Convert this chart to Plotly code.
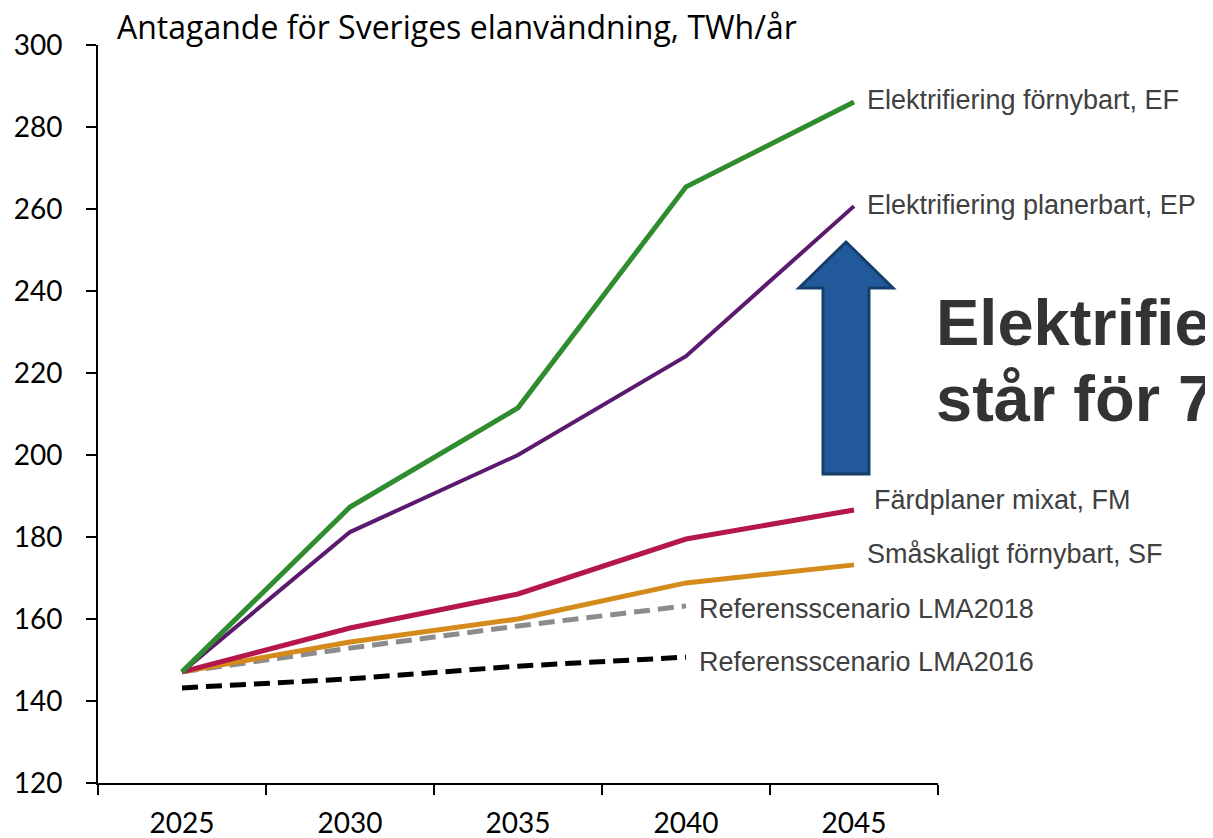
import plotly.graph_objects as go

years = ["2025", "2030", "2035", "2040", "2045"]
ef = [147.1, 187.3, 211.5, 265.4, 286.1]
ep = [147.1, 181.2, 200.0, 224.1, 260.7]
fm = [147.1, 157.8, 166.1, 179.5, 186.6]
sf = [147.1, 154.4, 160.0, 168.8, 173.2]
lma2018 = [147.1, 152.9, 158.3, 163.2]
lma2016 = [143.2, 145.4, 148.5, 150.7]
y_ticks = [120, 140, 160, 180, 200, 220, 240, 260, 280, 300]

W, H = 1213, 838
OFF = 8  # page body margin
L, T = 90, 37
PW, PH = 840, 738
R = W - L - PW
B = H - T - PH

def px(x):
    return (x - OFF - L) / PW

def py(y):
    return 1 - (y - OFF - T) / PH

fig = go.Figure()

series = [
    ("Referensscenario LMA2016", lma2016, "#000000", 5, "dash"),
    ("Referensscenario LMA2018", lma2018, "#8c8c8c", 5, "dash"),
    ("Småskaligt förnybart, SF", sf, "#d58a1c", 5, "solid"),
    ("Färdplaner mixat, FM", fm, "#b5174d", 5, "solid"),
    ("Elektrifiering planerbart, EP", ep, "#5c1a6e", 4, "solid"),
    ("Elektrifiering förnybart, EF", ef, "#2f8c2f", 5, "solid"),
]
for name, vals, col, w, dash in series:
    fig.add_trace(go.Scatter(
        x=years[:len(vals)], y=vals, mode="lines", name=name,
        line=dict(color=col, width=w, dash="16px,8px" if dash == "dash" else "solid"),
        showlegend=False, hoverinfo="skip",
    ))

label_font = dict(family="Liberation Sans, Arial, sans-serif", size=27, color="#404040")
label_pos = [
    ("Elektrifiering förnybart, EF", ef, 11, 2),
    ("Elektrifiering planerbart, EP", ep, 11, 1),
    ("Färdplaner mixat, FM", fm, 18, 10),
    ("Småskaligt förnybart, SF", sf, 11, 11),
    ("Referensscenario LMA2018", lma2018, 11, -3),
    ("Referensscenario LMA2016", lma2016, 11, -5),
]
for text, vals, xs, ys in label_pos:
    fig.add_annotation(
        x=len(vals) - 1, y=vals[-1], xref="x", yref="y",
        text=text, showarrow=False, xanchor="left", yanchor="middle",
        xshift=xs, yshift=ys, font=label_font,
    )

# Title
fig.add_annotation(
    x=px(115), y=py(26), xref="paper", yref="paper",
    text="Antagande för Sveriges elanvändning, TWh/år", showarrow=False,
    xanchor="left", yanchor="middle",
    font=dict(family="Open Sans, Lato, sans-serif", size=32, color="#000000"),
)

# Big blue arrow
pts = [(846, 242), (893, 288), (869, 288), (869, 474), (823, 474), (823, 288), (799, 288)]
path = "M " + " L ".join(f"{px(a):.5f},{py(b):.5f}" for a, b in pts) + " Z"
fig.add_shape(type="path", path=path, xref="paper", yref="paper",
              fillcolor="#22599a", line=dict(color="#163e6b", width=3), layer="above")

# Big text (two lines)
big_font = dict(family="Liberation Sans, Arial, sans-serif", size=65, color="#333333")
for txt, yy in [("<b>Elektrifieringen</b>", 323), ("<b>står för 75%</b>", 398)]:
    fig.add_annotation(
        x=px(934), y=py(yy), xref="paper", yref="paper",
        text=txt, showarrow=False, xanchor="left", yanchor="middle", align="left",
        font=big_font,
    )

tickfont = dict(family="Lato, sans-serif", size=28, color="black")
fig.update_layout(
    width=W, height=H,
    margin=dict(l=L, r=R, t=T, b=B, autoexpand=False),
    paper_bgcolor="white", plot_bgcolor="white",
    xaxis=dict(
        type="category", range=[-0.5, 4.5], tickson="boundaries",
        ticks="outside", ticklen=10, tickwidth=2, tickcolor="black",
        showline=True, linecolor="black", linewidth=2, showgrid=False, zeroline=False,
        tickfont=tickfont, ticklabelstandoff=14,
    ),
    yaxis=dict(
        range=[120, 300], tickvals=y_ticks,
        ticks="outside", ticklen=10, tickwidth=2, tickcolor="black",
        showline=True, linecolor="black", linewidth=2, showgrid=False, zeroline=False,
        tickfont=tickfont, ticklabelstandoff=18,
    ),
)

fig.write_html("out.html")
